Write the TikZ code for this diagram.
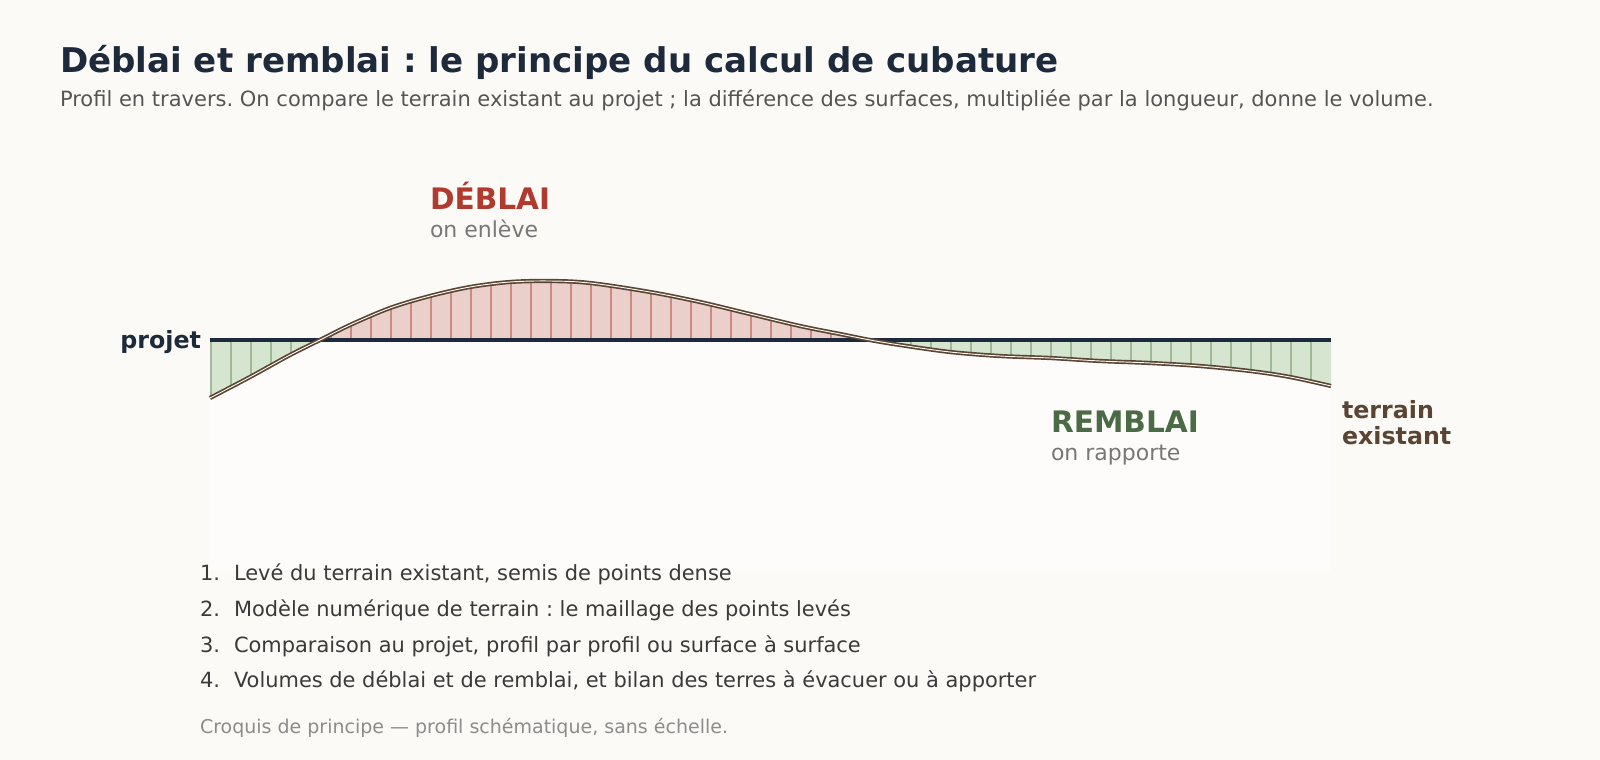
\documentclass[tikz,border=0pt]{standalone}
\usepackage{fontspec}
\setmainfont{DejaVu Sans}
\frenchspacing
\definecolor{bgc}{HTML}{FBFAF6}
\definecolor{panelc}{HTML}{FDFCFA}
\definecolor{navy}{HTML}{1C2A3B}
\definecolor{subc}{HTML}{555555}
\definecolor{redt}{HTML}{B03A2E}
\definecolor{greent}{HTML}{4A6B45}
\definecolor{grayt}{HTML}{777777}
\definecolor{brownt}{HTML}{5A4535}
\definecolor{redfill}{HTML}{EBCFCA}
\definecolor{redhatch}{HTML}{C98A82}
\definecolor{greenfill}{HTML}{D5E5D0}
\definecolor{greenhatch}{HTML}{9EB898}
\definecolor{listc}{HTML}{3A3A3A}
\definecolor{footc}{HTML}{8C8C8C}
\definecolor{lightline}{HTML}{FBF7F0}
\begin{document}
\begin{tikzpicture}[x=0.75pt,y=-0.75pt,
  txt/.style={inner sep=0pt, outer sep=0pt},
  titlestyle/.style={txt, anchor=base west, text=navy, font=\fontsize{25.55pt}{30pt}\selectfont\bfseries},
  substyle/.style={txt, anchor=base west, text=subc, font=\fontsize{15.75pt}{18pt}\selectfont},
  bigred/.style={txt, anchor=base west, text=redt, font=\fontsize{22.2pt}{26pt}\selectfont\bfseries},
  biggreen/.style={txt, anchor=base west, text=greent, font=\fontsize{22.2pt}{26pt}\selectfont\bfseries},
  smallgray/.style={txt, anchor=base west, text=grayt, font=\fontsize{16.5pt}{19pt}\selectfont},
  sidelabel/.style={txt, font=\fontsize{17.8pt}{20pt}\selectfont\bfseries},
  liststyle/.style={txt, anchor=base west, text=listc, font=\fontsize{15.7pt}{18pt}\selectfont},
  footstyle/.style={txt, anchor=base west, text=footc, font=\fontsize{14.25pt}{17pt}\selectfont},
  projetline/.style={draw=navy, line width=3.2pt},
  terrainline/.style={draw=brownt, line width=1.25pt, double=lightline, double distance=0.7pt},
  redhatchline/.style={draw=redhatch, line width=1pt},
  greenhatchline/.style={draw=greenhatch, line width=1pt}
]
\fill[bgc] (0,0) rectangle (1600,760);
\useasboundingbox (0,0) rectangle (1600,760);
\fill[panelc] (210,340) rectangle (1331,570);

% titles
\node[titlestyle] (title) at (60,72) {Déblai et remblai : le principe du calcul de cubature};
\node[substyle] (subtitle) at (60,106) {Profil en travers. On compare le terrain existant au projet ; la différence des surfaces, multipliée par la longueur, donne le volume.};

% deblai zone (above projet)
\begin{scope}
  \clip (0,0) rectangle (1600,340);
  \fill[redfill] plot[smooth,tension=0.55] coordinates {(210,398) (250,377) (290,355) (320,340) (350,325) (390,308) (430,296) (470,287) (510,282) (550,281) (590,283) (650,292) (700,302) (750,314) (800,326) (840,334) (870,340) (900,345) (950,352) (1000,356) (1050,358) (1100,361) (1150,363) (1200,366) (1250,371) (1290,377) (1331,386)} -- (1331,340) -- (210,340) -- cycle;
  \clip plot[smooth,tension=0.55] coordinates {(210,398) (250,377) (290,355) (320,340) (350,325) (390,308) (430,296) (470,287) (510,282) (550,281) (590,283) (650,292) (700,302) (750,314) (800,326) (840,334) (870,340) (900,345) (950,352) (1000,356) (1050,358) (1100,361) (1150,363) (1200,366) (1250,371) (1290,377) (1331,386)} -- (1331,340) -- (210,340) -- cycle;
  \foreach \x in {211,231,...,1311} \draw[redhatchline] (\x,250) -- (\x,430);
\end{scope}
% remblai zone (below projet)
\begin{scope}
  \clip (0,340) rectangle (1600,760);
  \fill[greenfill] plot[smooth,tension=0.55] coordinates {(210,398) (250,377) (290,355) (320,340) (350,325) (390,308) (430,296) (470,287) (510,282) (550,281) (590,283) (650,292) (700,302) (750,314) (800,326) (840,334) (870,340) (900,345) (950,352) (1000,356) (1050,358) (1100,361) (1150,363) (1200,366) (1250,371) (1290,377) (1331,386)} -- (1331,340) -- (210,340) -- cycle;
  \clip plot[smooth,tension=0.55] coordinates {(210,398) (250,377) (290,355) (320,340) (350,325) (390,308) (430,296) (470,287) (510,282) (550,281) (590,283) (650,292) (700,302) (750,314) (800,326) (840,334) (870,340) (900,345) (950,352) (1000,356) (1050,358) (1100,361) (1150,363) (1200,366) (1250,371) (1290,377) (1331,386)} -- (1331,340) -- (210,340) -- cycle;
  \foreach \x in {211,231,...,1311} \draw[greenhatchline] (\x,250) -- (\x,430);
\end{scope}

% projet line
\coordinate (pA) at (210,340);
\coordinate (pB) at (1331,340);
\draw[projetline] (pA) -- (pB);

% terrain existant
\draw[terrainline] plot[smooth,tension=0.55] coordinates {(210,398) (250,377) (290,355) (320,340) (350,325) (390,308) (430,296) (470,287) (510,282) (550,281) (590,283) (650,292) (700,302) (750,314) (800,326) (840,334) (870,340) (900,345) (950,352) (1000,356) (1050,358) (1100,361) (1150,363) (1200,366) (1250,371) (1290,377) (1331,386)};

% labels
\node[sidelabel, anchor=base east, text=navy] (projet) at (201,348) {projet};
\node[sidelabel, anchor=base west, text=brownt] (terrain1) at (1342,418) {terrain};
\node[sidelabel, anchor=base west, text=brownt] (terrain2) at (1342,444) {existant};

\node[bigred] (deblai) at (430,209) {DÉBLAI};
\node[smallgray] (enleve) at (430,237) {on enlève};
\node[biggreen] (remblai) at (1051,432) {REMBLAI};
\node[smallgray] (rapporte) at (1051,460) {on rapporte};

% list
\node[liststyle] (n1) at (200,580) {1.};
\node[liststyle] (l1) at (234,580) {Levé du terrain existant, semis de points dense};
\node[liststyle] (n2) at (200,616) {2.};
\node[liststyle] (l2) at (234,616) {Modèle numérique de terrain : le maillage des points levés};
\node[liststyle] (n3) at (200,652) {3.};
\node[liststyle] (l3) at (234,652) {Comparaison au projet, profil par profil ou surface à surface};
\node[liststyle] (n4) at (200,687) {4.};
\node[liststyle] (l4) at (234,687) {Volumes de déblai et de remblai, et bilan des terres à évacuer ou à apporter};

\node[footstyle] (foot) at (200,733) {Croquis de principe — profil schématique, sans échelle.};
\end{tikzpicture}
\end{document}
